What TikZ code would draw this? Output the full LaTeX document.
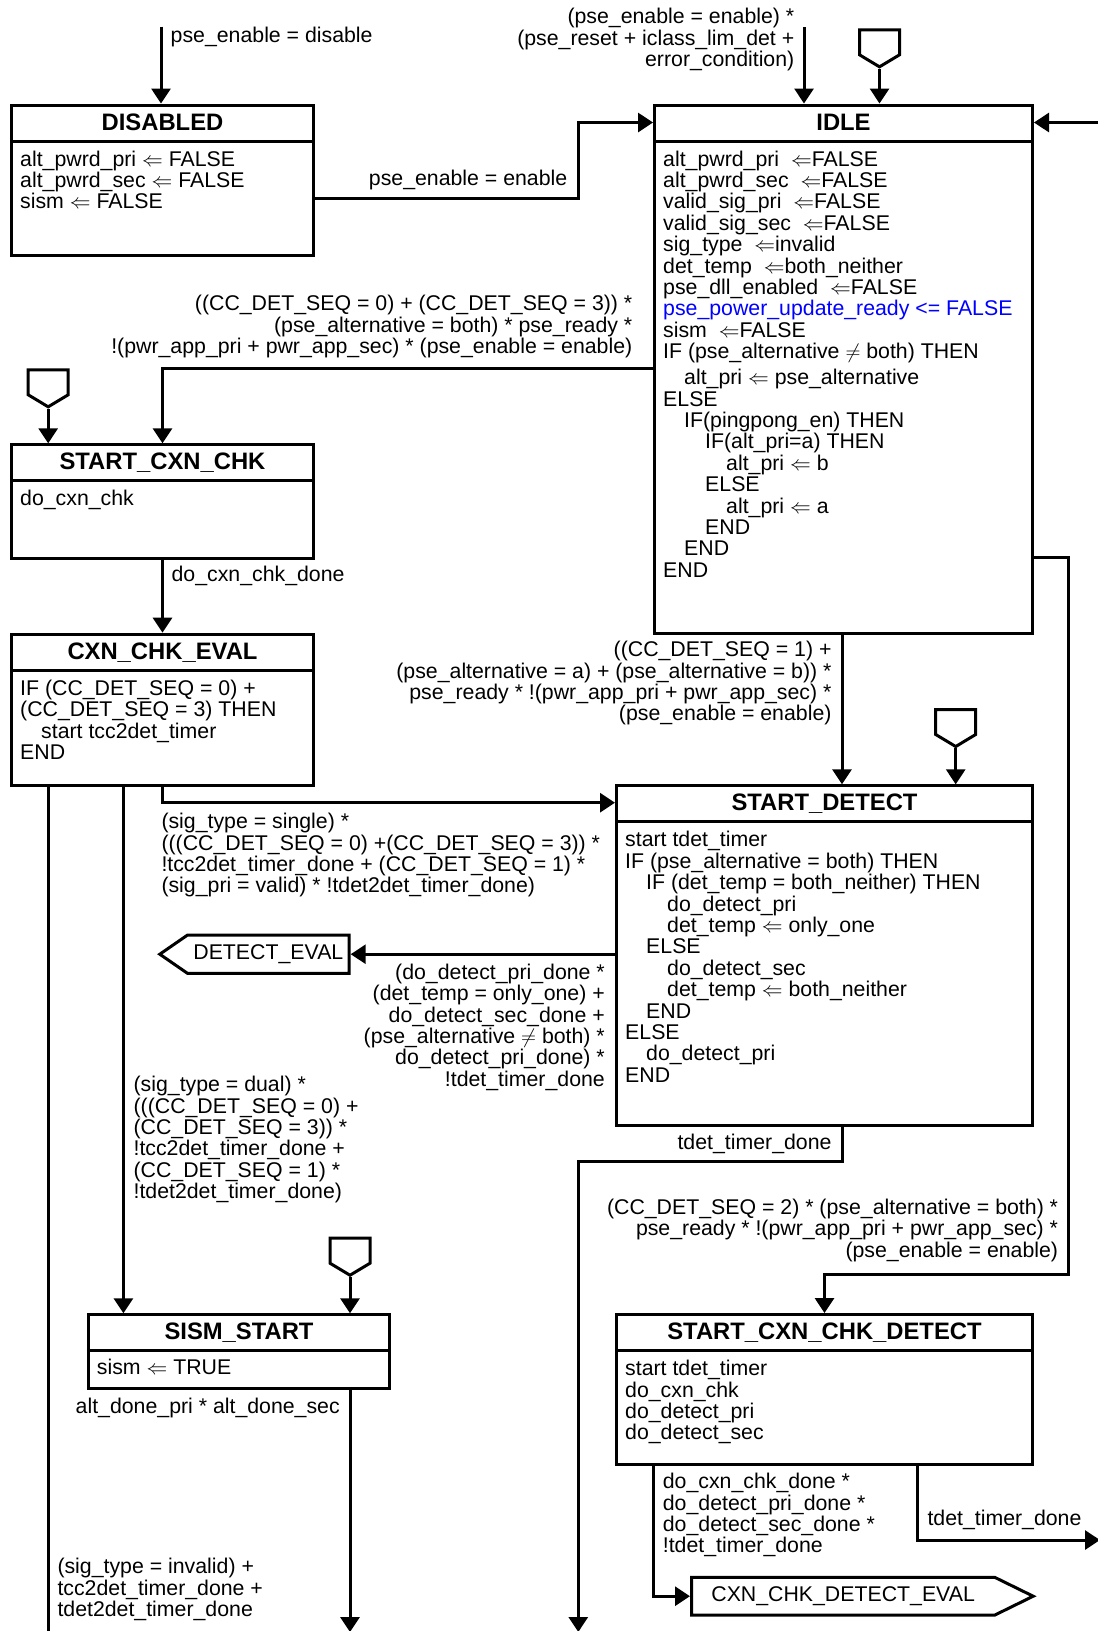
\documentclass[tikz,border=0pt]{standalone}
\usepackage{fontspec}
\setmainfont{Liberation Sans}
\usetikzlibrary{arrows.meta,shapes.symbols}

\begin{document}
\begin{tikzpicture}[x=1pt,y=1pt,
  statebox/.style={draw,line width=3pt,inner sep=0pt,anchor=north west},
  sttitle/.style={font=\fontsize{23.8}{24}\selectfont\bfseries,inner sep=0pt,text height=17pt,text depth=0pt},
  body/.style={font=\fontsize{21.3}{21.4}\selectfont,inner sep=0pt,align=left,anchor=north west},
  lbl/.style={font=\fontsize{21.3}{21.4}\selectfont,inner sep=0pt},
  headline/.style={line width=3pt},
  flow/.style={line width=3pt,-{Triangle[length=15pt,width=19pt]}},
  entry/.style={draw,line width=3pt,signal,signal from=nowhere,signal to=south,minimum width=40pt,minimum height=25pt,signal pointer angle=118,inner sep=0pt,anchor=north},
  exitsig/.style={draw,line width=3pt,signal,signal from=nowhere,font=\fontsize{21.3}{21.4}\selectfont,inner sep=2pt}]
  \useasboundingbox (0,0) rectangle (1098,-1631);

  \node[statebox,minimum width=302pt,minimum height=150.5pt] (disabled) at (10,-103.5) {};
  \node[sttitle] (disabledtitle) at ([yshift=-18pt]disabled.north) {DISABLED};
  \draw[headline] ([yshift=-37.5pt]disabled.north west) -- ([yshift=-37.5pt]disabled.north east);
  \node[body] (disabledbody) at ([xshift=10pt,yshift=-47pt]disabled.north west) {alt\_pwrd\_pri $\Leftarrow$ FALSE\\
    alt\_pwrd\_sec $\Leftarrow$ FALSE\\
    sism $\Leftarrow$ FALSE};

  \node[statebox,minimum width=378pt,minimum height=528.5pt] (idle) at (653,-103.5) {};
  \node[sttitle] (idletitle) at ([yshift=-18pt]idle.north) {IDLE};
  \draw[headline] ([yshift=-37.5pt]idle.north west) -- ([yshift=-37.5pt]idle.north east);
  \node[body] (idlebody) at ([xshift=10pt,yshift=-47pt]idle.north west) {alt\_pwrd\_pri~~$\Leftarrow$FALSE\\
    alt\_pwrd\_sec~~$\Leftarrow$FALSE\\
    valid\_sig\_pri~~$\Leftarrow$FALSE\\
    valid\_sig\_sec~~$\Leftarrow$FALSE\\
    sig\_type~~$\Leftarrow$invalid\\
    det\_temp~~$\Leftarrow$both\_neither\\
    pse\_dll\_enabled~~$\Leftarrow$FALSE\\
    \textcolor{blue}{pse\_power\_update\_ready <= FALSE}\\
    sism~~$\Leftarrow$FALSE\\
    IF (pse\_alternative $\neq$ both) THEN\\[4.6pt]
    \hspace*{21pt}alt\_pri $\Leftarrow$ pse\_alternative\\
    ELSE\\
    \hspace*{21pt}IF(pingpong\_en) THEN\\
    \hspace*{42pt}IF(alt\_pri=a) THEN\\
    \hspace*{63pt}alt\_pri $\Leftarrow$ b\\
    \hspace*{42pt}ELSE\\
    \hspace*{63pt}alt\_pri $\Leftarrow$ a\\
    \hspace*{42pt}END\\
    \hspace*{21pt}END\\
    END};

  \node[statebox,minimum width=302pt,minimum height=113.2pt] (startcxnchk) at (10,-443.3) {};
  \node[sttitle] (startcxnchktitle) at ([yshift=-18pt]startcxnchk.north) {START\_CXN\_CHK};
  \draw[headline] ([yshift=-37.5pt]startcxnchk.north west) -- ([yshift=-37.5pt]startcxnchk.north east);
  \node[body] (startcxnchkbody) at ([xshift=10pt,yshift=-47pt]startcxnchk.north west) {do\_cxn\_chk};

  \node[statebox,minimum width=302pt,minimum height=151.3pt] (cxnchkeval) at (10,-632.7) {};
  \node[sttitle] (cxnchkevaltitle) at ([yshift=-18pt]cxnchkeval.north) {CXN\_CHK\_EVAL};
  \draw[headline] ([yshift=-37.5pt]cxnchkeval.north west) -- ([yshift=-37.5pt]cxnchkeval.north east);
  \node[body] (cxnchkevalbody) at ([xshift=10pt,yshift=-47pt]cxnchkeval.north west) {IF (CC\_DET\_SEQ = 0) +\\
    (CC\_DET\_SEQ = 3) THEN\\
    \hspace*{21pt}start tcc2det\_timer\\
    END};

  \node[statebox,minimum width=416pt,minimum height=339.7pt] (startdetect) at (615,-784.3) {};
  \node[sttitle] (startdetecttitle) at ([yshift=-18pt]startdetect.north) {START\_DETECT};
  \draw[headline] ([yshift=-37.5pt]startdetect.north west) -- ([yshift=-37.5pt]startdetect.north east);
  \node[body] (startdetectbody) at ([xshift=10pt,yshift=-47pt]startdetect.north west) {start tdet\_timer\\
    IF (pse\_alternative = both) THEN\\
    \hspace*{21pt}IF (det\_temp = both\_neither) THEN\\
    \hspace*{42pt}do\_detect\_pri\\
    \hspace*{42pt}det\_temp $\Leftarrow$ only\_one\\
    \hspace*{21pt}ELSE\\
    \hspace*{42pt}do\_detect\_sec\\
    \hspace*{42pt}det\_temp $\Leftarrow$ both\_neither\\
    \hspace*{21pt}END\\
    ELSE\\
    \hspace*{21pt}do\_detect\_pri\\
    END};

  \node[statebox,minimum width=301.6pt,minimum height=74pt] (sismstart) at (86.7,-1313.3) {};
  \node[sttitle] (sismstarttitle) at ([yshift=-18pt]sismstart.north) {SISM\_START};
  \draw[headline] ([yshift=-37.5pt]sismstart.north west) -- ([yshift=-37.5pt]sismstart.north east);
  \node[body] (sismstartbody) at ([xshift=10pt,yshift=-46pt]sismstart.north west) {sism $\Leftarrow$ TRUE};

  \node[statebox,minimum width=416pt,minimum height=150.3pt] (scd) at (615,-1313) {};
  \node[sttitle] (scdtitle) at ([yshift=-18pt]scd.north) {START\_CXN\_CHK\_DETECT};
  \draw[headline] ([yshift=-37.5pt]scd.north west) -- ([yshift=-37.5pt]scd.north east);
  \node[body] (scdbody) at ([xshift=10pt,yshift=-47pt]scd.north west) {start tdet\_timer\\
    do\_cxn\_chk\\
    do\_detect\_pri\\
    do\_detect\_sec};

  \coordinate (disabledin) at (161,-26.7);
  \draw[flow] (disabledin) -- (disabledin |- disabled.north);
  \node[lbl,anchor=north west] (lbldisable) at (170.5,-27) {pse\_enable = disable};

  \draw[flow] (disabled.east |- 0,-198.3) -| (578,-122.5) -- (idle.west |- 0,-122.5);
  \node[lbl,anchor=north east] (lblenable) at (567.5,-170) {pse\_enable = enable};

  \coordinate (idlein) at (804,-27);
  \draw[flow] (idlein) -- (idlein |- idle.north);
  \node[lbl,align=right,anchor=north east] (lblidlein) at (794.5,-8) {(pse\_enable = enable) *\\
    (pse\_reset + iclass\_lim\_det +\\
    error\_condition)};

  \node[entry] (idleentry) at (879.5,-28.3) {};
  \draw[flow] (idleentry.south) -- (idleentry.south |- idle.north);

  \coordinate (idleback) at (1098,-122.5);
  \draw[flow] (idleback) -- (idleback -| idle.east);

  \draw[flow] (idle.west |- 0,-368.3) -| (startcxnchk.north);
  \node[lbl,align=right,anchor=north east] (lblcxnchk) at (632.5,-295.3) {((CC\_DET\_SEQ = 0) + (CC\_DET\_SEQ = 3)) *\\
    (pse\_alternative = both) * pse\_ready *\\
    !(pwr\_app\_pri + pwr\_app\_sec) * (pse\_enable = enable)};

  \node[entry] (cxnentry) at (48.2,-368.3) {};
  \draw[flow] (cxnentry.south) -- (cxnentry.south |- startcxnchk.north);

  \draw[flow] (startcxnchk.south) -- (cxnchkeval.north);
  \node[lbl,anchor=north west] (lblcxndone) at (171.4,-566) {do\_cxn\_chk\_done};

  \draw[flow] (cxnchkeval.south) |- (startdetect.west |- 0,-802.7);
  \node[lbl,align=left,anchor=north west] (lblsingle) at (161.3,-813) {(sig\_type = single) *\\
    (((CC\_DET\_SEQ = 0) +(CC\_DET\_SEQ = 3)) *\\
    !tcc2det\_timer\_done + (CC\_DET\_SEQ = 1) *\\
    (sig\_pri = valid) * !tdet2det\_timer\_done)};

  \draw[flow] (cxnchkeval.south -| 123.4,0) -- (sismstart.north -| 123.4,0);
  \node[lbl,align=left,anchor=north west] (lbldual) at (133.4,-1076) {(sig\_type = dual) *\\
    (((CC\_DET\_SEQ = 0) +\\
    (CC\_DET\_SEQ = 3)) *\\
    !tcc2det\_timer\_done +\\
    (CC\_DET\_SEQ = 1) *\\
    !tdet2det\_timer\_done)};

  \coordinate (evalout) at (48.3,-1631);
  \draw[line width=3pt] (cxnchkeval.south -| evalout) -- (evalout);
  \node[lbl,align=left,anchor=north west] (lblinvalid) at (57.3,-1558) {(sig\_type = invalid) +\\
    tcc2det\_timer\_done +\\
    tdet2det\_timer\_done};

  \draw[flow] (idle.south -| 842,0) -- (startdetect.north -| 842,0);
  \node[lbl,align=right,anchor=north east] (lbldetect) at (831.7,-641) {((CC\_DET\_SEQ = 1) +\\
    (pse\_alternative = a) + (pse\_alternative = b)) *\\
    pse\_ready * !(pwr\_app\_pri + pwr\_app\_sec) *\\
    (pse\_enable = enable)};

  \node[entry] (detectentry) at (955.7,-708) {};
  \draw[flow] (detectentry.south) -- (detectentry.south |- startdetect.north);

  \node[exitsig,signal to=west,anchor=east,minimum width=189.4pt,minimum height=38.3pt,signal pointer angle=69.3] (detecteval) at (350.7,-954.2) {DETECT\_EVAL};
  \draw[flow] (startdetect.west |- detecteval.east) -- (detecteval.east);
  \node[lbl,align=right,anchor=north east] (lbldeteval) at (605,-963.7) {(do\_detect\_pri\_done *\\
    (det\_temp = only\_one) +\\
    do\_detect\_sec\_done +\\
    (pse\_alternative $\neq$ both) *\\
    do\_detect\_pri\_done) *\\
    !tdet\_timer\_done};

  \coordinate (tdetout) at (578.3,-1632);
  \draw[flow] (startdetect.south -| 842,0) |- (tdetout |- 0,-1161.7) -- (tdetout);
  \node[lbl,anchor=north east] (lbltdet) at (831.7,-1133.7) {tdet\_timer\_done};

  \draw[flow] (idle.east |- 0,-557.7) -| (1068.3,-1274) -| (scd.north);
  \node[lbl,align=right,anchor=north east] (lblscd) at (1058.3,-1198.7) {(CC\_DET\_SEQ = 2) * (pse\_alternative = both) *\\
    pse\_ready * !(pwr\_app\_pri + pwr\_app\_sec) *\\
    (pse\_enable = enable)};

  \node[entry] (sismentry) at (350,-1236.7) {};
  \draw[flow] (sismentry.south) -- (sismentry.south |- sismstart.north);

  \coordinate (sismout) at (350,-1632);
  \draw[flow] (sismstart.south -| sismout) -- (sismout);
  \node[lbl,anchor=north east] (lblaltdone) at (340,-1398) {alt\_done\_pri * alt\_done\_sec};

  \node[exitsig,signal to=east,anchor=west,minimum width=341.7pt,minimum height=37.7pt,signal pointer angle=52.3] (cxneval) at (690,-1596.2) {CXN\_CHK\_DETECT\_EVAL};
  \draw[flow] (scd.south -| 653.3,0) |- (cxneval.west);
  \node[lbl,align=left,anchor=north west] (lblscdeval) at (662.7,-1473) {do\_cxn\_chk\_done *\\
    do\_detect\_pri\_done *\\
    do\_detect\_sec\_done *\\
    !tdet\_timer\_done};

  \coordinate (scdout) at (1100,-1540);
  \draw[flow] (scd.south -| 917.3,0) |- (scdout);
  \node[lbl,anchor=north west] (lblscdtdet) at (927.3,-1510.3) {tdet\_timer\_done};
\end{tikzpicture}
\end{document}
